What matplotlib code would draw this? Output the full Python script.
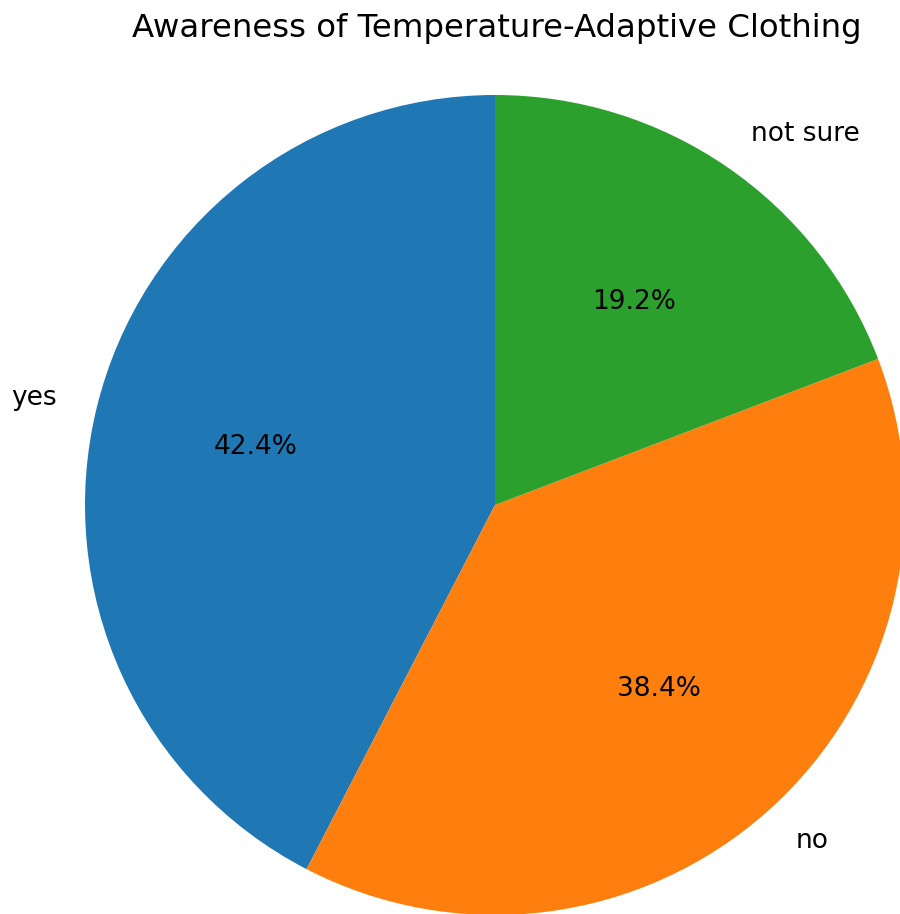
import matplotlib
matplotlib.use('Agg')
import matplotlib.pyplot as plt

labels = ['yes', 'no', 'not sure']
counts = [106, 96, 48]
colors = ['#1f77b4', '#ff7f0e', '#2ca02c']

W, H = 900, 914
fig = plt.figure(figsize=(W / 100, H / 100), dpi=100)

# pie centre and radius in pixels (from top-left)
cx, cy, r = 495, 505, 410
side = 2.5 * r
ax = fig.add_axes([(cx - side / 2) / W, (H - cy - side / 2) / H, side / W, side / H])

ax.pie(counts, labels=labels, colors=colors, autopct='%1.1f%%', startangle=90,
       textprops={'fontsize': 19})
ax.set_aspect('equal')

fig.text(497 / W, 1 - 29 / H, 'Awareness of Temperature-Adaptive Clothing',
         ha='center', va='center', fontsize=23.3)

fig.savefig('out.png', dpi=100)
